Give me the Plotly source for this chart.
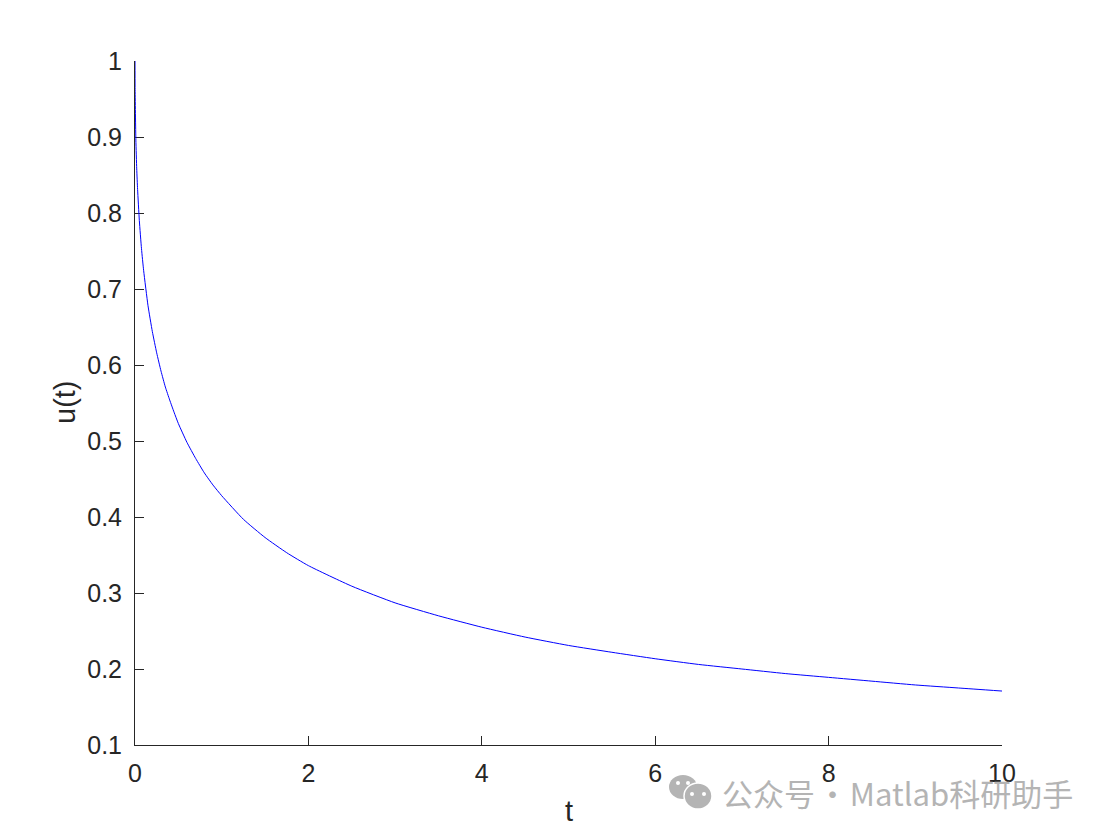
import plotly.graph_objects as go

t_values = [0, 0.001, 0.01, 0.02, 0.03, 0.05, 0.075, 0.1, 0.15, 0.2, 0.25, 0.3, 0.35, 0.4, 0.45, 0.5, 0.6, 0.7, 0.8, 0.9,
            1, 1.25, 1.5, 1.75, 2, 2.5, 3, 3.5, 4, 4.5, 5, 5.5, 6, 6.5, 7, 7.5, 8, 8.5, 9, 9.5, 10]
u_values = [1, 0.965, 0.896, 0.858, 0.831, 0.790, 0.753, 0.724, 0.678, 0.644, 0.616, 0.592, 0.571, 0.554, 0.538, 0.523, 0.498,
            0.477, 0.458, 0.442, 0.428, 0.397, 0.373, 0.353, 0.336, 0.309, 0.287, 0.270, 0.255, 0.242, 0.231,
            0.222, 0.2135, 0.206, 0.200, 0.194, 0.189, 0.184, 0.179, 0.175, 0.171]
x_ticks = [0, 2, 4, 6, 8, 10]
y_ticks = [0.1, 0.2, 0.3, 0.4, 0.5, 0.6, 0.7, 0.8, 0.9, 1]
y_labels = ["0.1", "0.2", "0.3", "0.4", "0.5", "0.6", "0.7", "0.8", "0.9", "1"]
x_title = "t"
y_title = "u(t)"
watermark = "公众号\u200a·\u200aMatlab科研助手"

W, H = 1108, 836
L, R, T, B = 135, 1002, 61, 745
INK = "#262626"
GREY = "#b4b4b4"


def px(x):
    return (x - L) / (R - L)


def py(y):
    return (B - y) / (B - T)


fig = go.Figure(go.Scatter(x=t_values, y=u_values, mode="lines", cliponaxis=False,
                           line=dict(color="#0000ff", width=1, shape="spline", smoothing=0.5), hoverinfo="skip"))

axis = dict(showgrid=False, zeroline=False, showline=True, linecolor=INK, linewidth=1,
            ticks="inside", ticklen=9, tickwidth=1, tickcolor=INK, layer="below traces",
            tickfont=dict(family="Liberation Sans", size=25, color=INK))
fig.update_xaxes(range=[0, 10], tickvals=x_ticks, ticktext=[str(v) for v in x_ticks],
                 ticklabelstandoff=6, **axis)
fig.update_yaxes(range=[0.1, 1], tickvals=y_ticks, ticktext=y_labels, ticklabelstandoff=7, **axis)


def blob(cx, cy, rx, ry):
    return dict(type="circle", xref="paper", yref="paper", layer="above",
                x0=px(cx - rx), x1=px(cx + rx), y0=py(cy + ry), y1=py(cy - ry),
                fillcolor=GREY, line=dict(width=0))


def eye(cx, cy):
    return dict(type="circle", xref="paper", yref="paper", layer="above",
                x0=px(cx - 2), x1=px(cx + 2), y0=py(cy + 2), y1=py(cy - 2),
                fillcolor="white", line=dict(width=0))


fig.update_layout(
    width=W, height=H, margin=dict(l=L, r=W - R, t=T, b=H - B, pad=0),
    paper_bgcolor="white", plot_bgcolor="white", showlegend=False,
    shapes=[blob(683, 787, 14, 12), eye(678, 783), eye(688, 783),
            dict(type="circle", xref="paper", yref="paper", layer="above",
                 x0=px(684), x1=px(712), y0=py(809), y1=py(783),
                 fillcolor=GREY, line=dict(color="white", width=1.5)),
            eye(692, 794), eye(704, 794)],
    annotations=[
        dict(text=x_title, x=px(569), y=py(811), xref="paper", yref="paper", showarrow=False,
             xanchor="center", yanchor="middle", font=dict(family="Liberation Sans", size=29, color=INK)),
        dict(text=y_title, x=px(65), y=py(402), xref="paper", yref="paper", showarrow=False, textangle=-90,
             xanchor="center", yanchor="middle", font=dict(family="Liberation Sans", size=29, color=INK)),
        dict(text=watermark, x=px(720), y=py(792), xref="paper", yref="paper", showarrow=False,
             xanchor="left", yanchor="middle", font=dict(family="Noto Sans CJK SC", size=31, color=GREY)),
    ],
)

fig.write_html("out.html", config=dict(displayModeBar=False),
               post_script="document.body.style.margin='0';window.dispatchEvent(new Event('resize'));")
